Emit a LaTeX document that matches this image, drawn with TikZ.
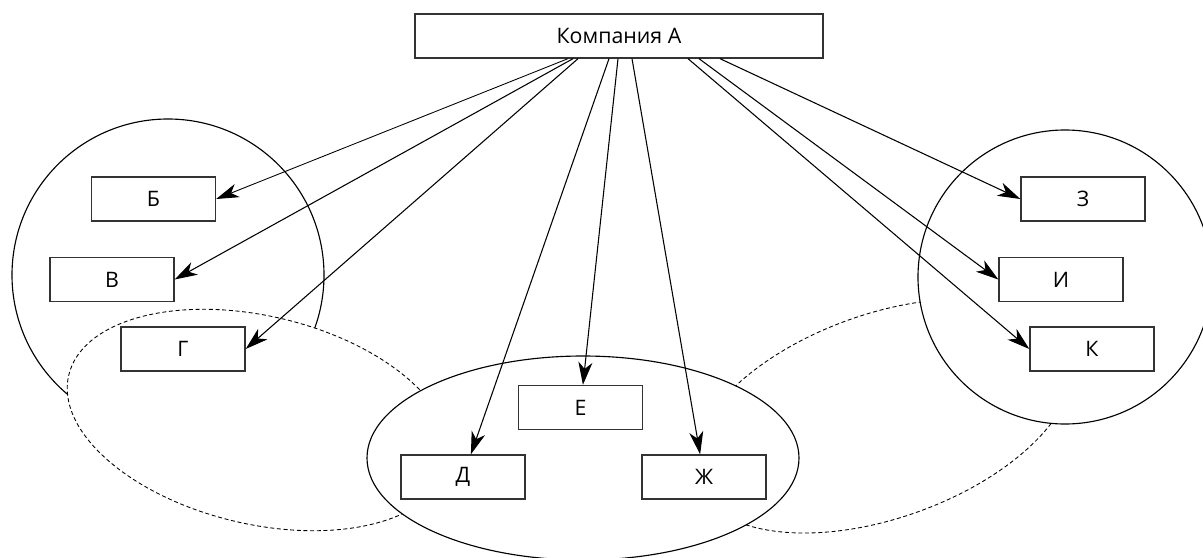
\documentclass[tikz,border=0pt]{standalone}
\usepackage{fontspec}
\setmainfont{Open Sans}
\usetikzlibrary{arrows.meta,calc}

\tikzset{
  box/.style={draw=black!80, fill=white, line width=1pt, minimum width=93pt,
    minimum height=33pt, inner sep=0pt, font=\fontsize{16}{19}\selectfont},
  arr/.style={-{Stealth[length=17pt,width=10.5pt,inset=5pt]}, line width=0.8pt},
  group/.style={line width=0.85pt},
  zone/.style={dash pattern=on 3pt off 2pt, line width=0.65pt, fill=white}
}

\begin{document}
\begin{tikzpicture}[x=0.75pt, y=-0.75pt]
\clip (0,0) rectangle (1203,557);

% groups of companies
\draw[group] (168,275) circle[radius=156];
\draw[zone, rotate around={-13.3:(258.5,420)}] (258.5,420) ellipse[x radius=195, y radius=104];
\draw[zone, rotate around={19.6:(883,416)}] (883,416) ellipse[x radius=199, y radius=102];
\draw[group, fill=white] (1065,277) circle[radius=147];
\draw[group, fill=white] (583,458) ellipse[x radius=216, y radius=102];

% companies
\node[box, minimum width=306pt] (comp) at (619,36) {Компания А};
\node[box] (b) at (153.5,199) {Б};
\node[box] (v) at (112,279.5) {В};
\node[box] (g) at (183,349) {Г};
\node[box] (d) at (463,477) {Д};
\node[box] (e) at (580.5,407.5) {Е};
\node[box] (zh) at (704,477) {Ж};
\node[box] (z) at (1083,199) {З};
\node[box] (i) at (1061,279.5) {И};
\node[box] (k) at (1092,349) {К};

% shares
\draw[arr, line width=0.65pt] ($(comp.south)+(-51,0)$) -- (b.east);
\draw[arr] ($(comp.south)+(-46,0)$) -- (v.east);
\draw[arr] ($(comp.south)+(-41,0)$) -- (g.east);
\draw[arr] ($(comp.south)+(-10,0)$) -- (d);
\draw[arr] ($(comp.south)+(-1,0)$) -- (e);
\draw[arr] ($(comp.south)+(13,0)$) -- (zh);
\draw[arr] ($(comp.south)+(69,0)$) -- (k.west);
\draw[arr] ($(comp.south)+(80,0)$) -- (i.west);
\draw[arr] ($(comp.south)+(101,0)$) -- (z.west);
\end{tikzpicture}
\end{document}
